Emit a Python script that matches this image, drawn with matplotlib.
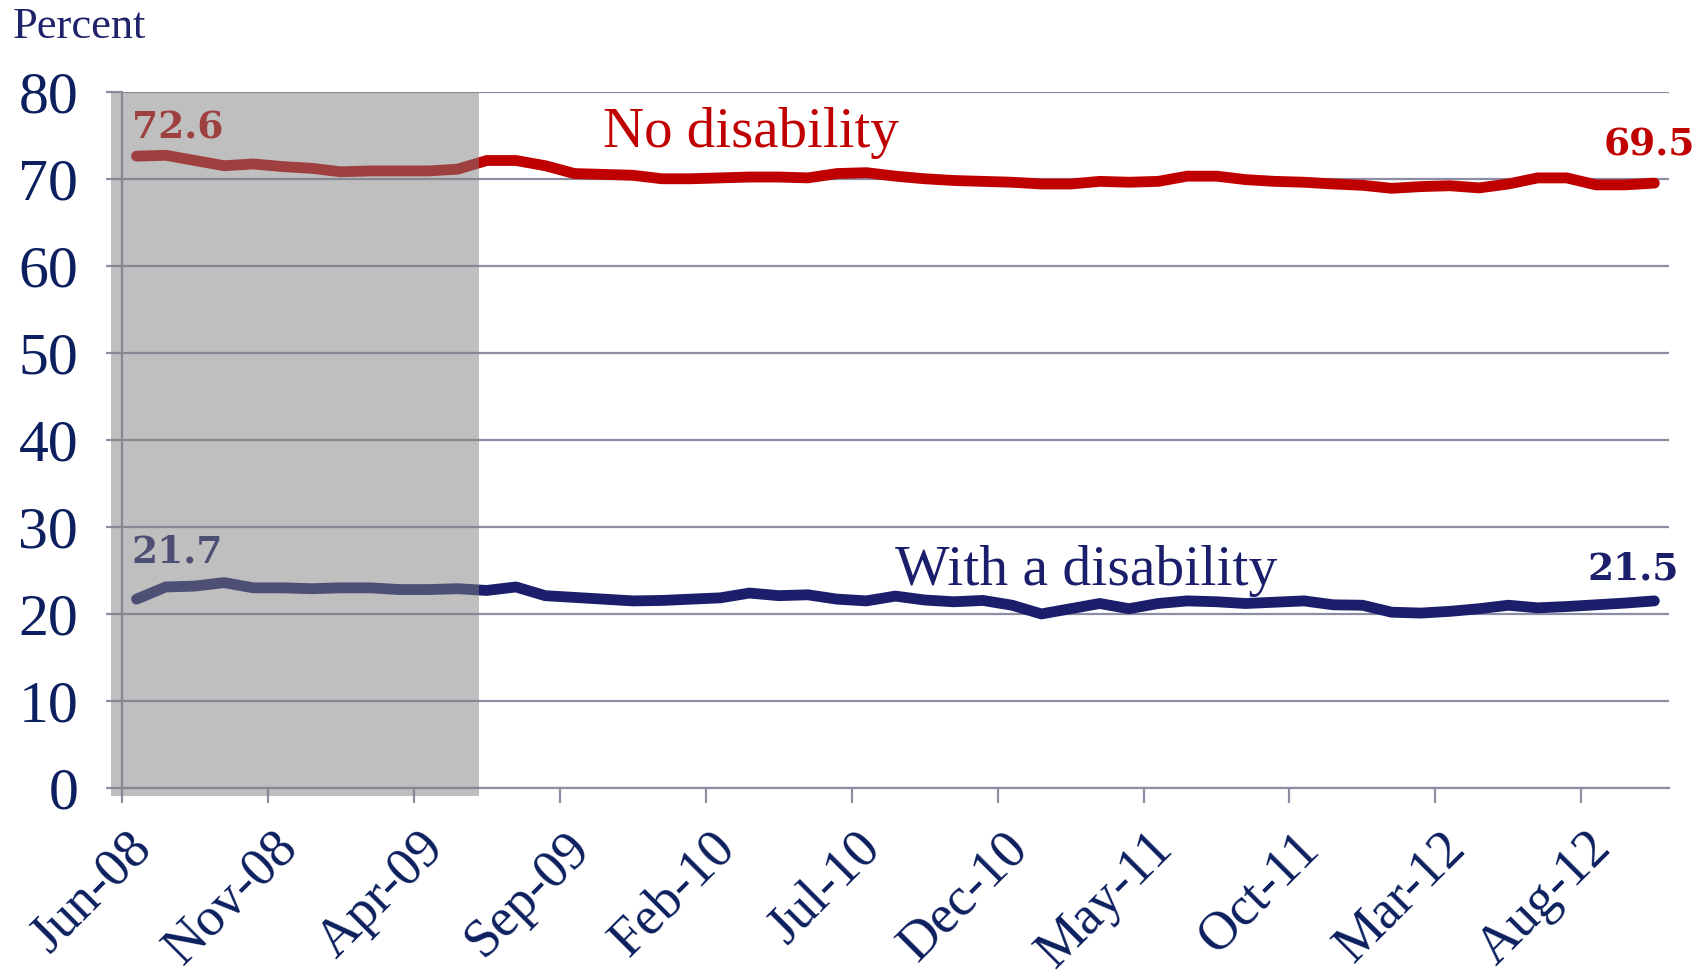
import numpy as np
import matplotlib
matplotlib.use("Agg")
import matplotlib.pyplot as plt
from matplotlib.patches import Rectangle

# monthly data, Jun-08 .. Oct-12
months = ["Jun-08", "Jul-08", "Aug-08", "Sep-08", "Oct-08", "Nov-08", "Dec-08",
          "Jan-09", "Feb-09", "Mar-09", "Apr-09", "May-09", "Jun-09", "Jul-09",
          "Aug-09", "Sep-09", "Oct-09", "Nov-09", "Dec-09", "Jan-10", "Feb-10",
          "Mar-10", "Apr-10", "May-10", "Jun-10", "Jul-10", "Aug-10", "Sep-10",
          "Oct-10", "Nov-10", "Dec-10", "Jan-11", "Feb-11", "Mar-11", "Apr-11",
          "May-11", "Jun-11", "Jul-11", "Aug-11", "Sep-11", "Oct-11", "Nov-11",
          "Dec-11", "Jan-12", "Feb-12", "Mar-12", "Apr-12", "May-12", "Jun-12",
          "Jul-12", "Aug-12", "Sep-12", "Oct-12"]

no_disability = [72.6, 72.7, 72.1, 71.5, 71.7, 71.4, 71.2, 70.8, 70.9, 70.9,
                 70.9, 71.1, 72.1, 72.1, 71.5, 70.6, 70.5, 70.4, 70.0, 70.0,
                 70.1, 70.2, 70.2, 70.1, 70.6, 70.7, 70.3, 70.0, 69.8, 69.7,
                 69.6, 69.4, 69.4, 69.7, 69.6, 69.7, 70.3, 70.3, 69.9, 69.7,
                 69.6, 69.4, 69.25, 68.9, 69.1, 69.2, 68.95, 69.4, 70.1, 70.1,
                 69.3, 69.3, 69.5]

with_disability = [21.7, 23.1, 23.2, 23.6, 23.0, 23.0, 22.9, 23.0, 23.0, 22.8,
                   22.8, 22.9, 22.7, 23.1, 22.1, 21.9, 21.7, 21.5, 21.55, 21.7,
                   21.85, 22.4, 22.1, 22.2, 21.7, 21.5, 22.05, 21.6, 21.4, 21.55,
                   21.0, 20.0, 20.6, 21.2, 20.6, 21.2, 21.5, 21.4, 21.2, 21.35,
                   21.5, 21.05, 21.0, 20.2, 20.1, 20.3, 20.6, 21.0, 20.7, 20.85,
                   21.05, 21.25, 21.5]

yticks = [0, 10, 20, 30, 40, 50, 60, 70, 80]

red = "#C00000"
navy = "#1B1F6B"
tick_col = "#0C1F5E"
grid_col = "#8C8FA3"
serif = ["Liberation Serif", "DejaVu Serif"]

fig = plt.figure(figsize=(17.03, 9.80), dpi=100)
ax = fig.add_axes([0.0716, 0.1959, 0.9084, 0.7105])

x = np.arange(len(months))
ax.plot(x, no_disability, color=red, lw=7.8, solid_capstyle="round", zorder=3)
ax.plot(x, with_disability, color=navy, lw=7.8, solid_capstyle="round", zorder=3)

ax.set_xlim(-0.5, len(months) - 0.5)
ax.set_ylim(0, 80)

# gridlines and axis styling
ax.set_yticks(yticks)
ax.yaxis.grid(True, color=grid_col, lw=1.6, zorder=1)
ax.set_axisbelow(True)
for s in ["top", "right"]:
    ax.spines[s].set_visible(False)
for s in ["left", "bottom"]:
    ax.spines[s].set_color(grid_col)
    ax.spines[s].set_linewidth(1.6)
ax.tick_params(axis="y", length=11.5, width=1.6, color=grid_col, pad=20,
               labelsize=43, labelcolor=tick_col)
for lab in ax.get_yticklabels():
    lab.set_family(serif)

# x axis: tick marks between categories, labels every 5 months
label_idx = list(range(0, len(months), 5))
ax.set_xticks([i - 0.5 for i in label_idx], minor=True)
ax.tick_params(axis="x", which="minor", length=11, width=1.6, color=grid_col)
ax.set_xticks([i - 0.35 for i in label_idx])
ax.set_xticklabels([months[i] for i in label_idx], rotation=45, ha="right",
                   va="top", rotation_mode="anchor", family=serif,
                   fontsize=39, color=tick_col)
ax.tick_params(axis="x", which="major", length=0, pad=25)

# series labels
ax.text(21.04, 73.6, "No disability", color=red, fontsize=41, family=serif,
        ha="center", va="baseline", zorder=4)
ax.text(32.55, 23.35, "With a disability", color=navy, fontsize=41.5,
        family=serif, ha="center", va="baseline", zorder=4)

# end-point values
ax.text(-0.16, 74.6, "72.6", color=red, fontsize=27, fontweight="bold",
        family="DejaVu Serif", ha="left", va="baseline", zorder=4)
ax.text(-0.16, 25.9, "21.7", color=navy, fontsize=27, fontweight="bold",
        family="DejaVu Serif", ha="left", va="baseline", zorder=4)
ax.text(53.4, 72.7, "69.5", color=red, fontsize=27, fontweight="bold",
        family="DejaVu Serif", ha="right", va="baseline", zorder=4,
        clip_on=False)
ax.text(52.85, 24.0, "21.5", color=navy, fontsize=27, fontweight="bold",
        family="DejaVu Serif", ha="right", va="baseline", zorder=4)

# recession shading on top (semi-transparent grey)
ax.add_patch(Rectangle((-0.877, -0.9), 12.6, 80.9, facecolor="#808080",
                       alpha=0.5, edgecolor="none", zorder=5, clip_on=False))

fig.text(13 / 1703, 1 - 38 / 980, "Percent", color="#1F2369", fontsize=32,
         family=serif, ha="left", va="baseline")

fig.savefig("out.png", dpi=100)
